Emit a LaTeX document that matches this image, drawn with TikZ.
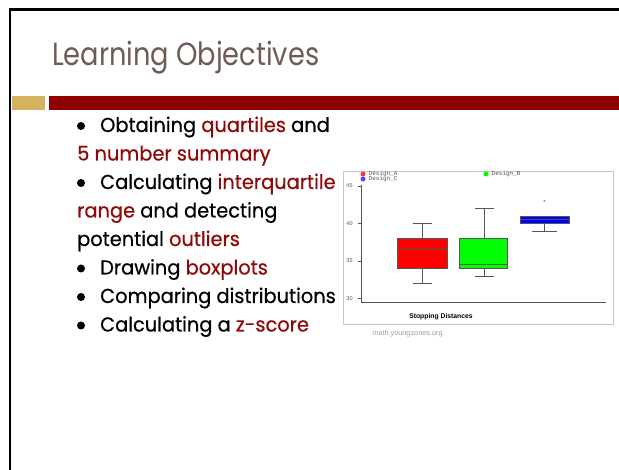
\documentclass[tikz,border=0pt]{standalone}
\usepackage{fontspec}
\setmainfont{Poppins}
\newfontfamily\titlefont{Poppins}[FakeStretch=0.85]
\newfontfamily\bodyfont{Poppins}[FakeBold=0.5,FakeStretch=0.96]
\newfontfamily\monofont{Liberation Mono}
\newfontfamily\chartfont{Liberation Sans}
\definecolor{titlecol}{HTML}{6F5B55}
\definecolor{darkred}{HTML}{8E0A0A}
\definecolor{barred}{HTML}{8E0000}
\definecolor{bargold}{HTML}{D6B25E}
\definecolor{axisgray}{HTML}{555555}
\tikzset{
  bodytext/.style={anchor=base west, inner sep=0pt, font=\bodyfont\fontsize{20.2}{20.2}\selectfont},
  bulletdot/.style={circle, fill=black, inner sep=0pt, minimum size=8pt},
  boxp/.style={draw=axisgray, line width=0.7pt},
  whisk/.style={draw=axisgray, line width=0.7pt},
  ticklab/.style={font=\chartfont\fontsize{5.5}{5.5}\selectfont, text=axisgray, inner sep=0pt},
  legtext/.style={font=\monofont\fontsize{6}{6}\selectfont, anchor=west, inner sep=0pt, text=axisgray},
  legdot/.style={circle, inner sep=0pt, minimum size=5pt}
}
\begin{document}
\begin{tikzpicture}[x=1pt,y=-1pt]
\useasboundingbox (0,0) rectangle (619,470);
\fill[white] (0,0) rectangle (619,470);
% slide frame
\draw[line width=2.6pt, black] (10,470) -- (10,9.5) -- (619,9.5);
% title
\node[anchor=base west, inner sep=0pt, text=titlecol, font=\titlefont\fontsize{32}{32}\selectfont] (title) at (52,66) {Learning Objectives};
% bars
\fill[bargold] (11.5,96) rectangle (45,110.5);
\fill[barred] (48.5,96) rectangle (619,110);
% bullet list
\node[bulletdot] (b1) at (81,126) {};
\node[bodytext] (l1) at (100,132) {Obtaining \textcolor{darkred}{quartiles} and};
\node[bodytext, text=darkred] (l2) at (77,160.5) {5 number summary};
\node[bulletdot] (b2) at (81,183) {};
\node[bodytext] (l3) at (100,189) {Calculating \textcolor{darkred}{interquartile}};
\node[bodytext] (l4) at (77,217.5) {\textcolor{darkred}{range} and detecting};
\node[bodytext] (l5) at (77,246) {potential \textcolor{darkred}{outliers}};
\node[bulletdot] (b3) at (81,268.5) {};
\node[bodytext] (l6) at (100,274.5) {Drawing \textcolor{darkred}{boxplots}};
\node[bulletdot] (b4) at (81,297) {};
\node[bodytext] (l7) at (100,303) {Comparing distributions};
\node[bulletdot] (b5) at (81,325.5) {};
\node[bodytext] (l8) at (100,331.5) {Calculating a \textcolor{darkred}{z-score}};
% chart frame
\draw[draw=black!22, line width=0.8pt] (343,171) rectangle (613,324);
% axes
\draw[axisgray, line width=0.7pt] (361,185) -- (361,302) -- (606,302);
\foreach \v/\yy in {45/186,40/223.5,35/261,30/298.5}{
  \draw[axisgray, line width=0.6pt] (358,\yy) -- (361,\yy);
  \node[ticklab] at (349.5,\yy) {\v};
}
% red box: whiskers 32-40, box 34-38, median 36.5
\draw[whisk] (422,283.5) -- (422,268.5) (422,238.5) -- (422,223.5);
\draw[whisk] (413,283.5) -- (432,283.5) (413,223.5) -- (432,223.5);
\filldraw[boxp, fill=red] (397,238.5) rectangle (447,268.5);
\draw[boxp] (397,249.75) -- (447,249.75);
% green box: whiskers 33-42, box 34-38, median 34.5
\draw[whisk] (484,276) -- (484,268.5) (484,238.5) -- (484,208.5);
\draw[whisk] (475,276) -- (494,276) (475,208.5) -- (494,208.5);
\filldraw[boxp, fill=green] (459,238.5) rectangle (507,268.5);
\draw[boxp] (459,264.75) -- (507,264.75);
% blue box: whisker 39, box 40-41, median 40.5, outlier 43
\draw[whisk] (544.5,231) -- (544.5,223.5);
\draw[whisk] (532,231) -- (557,231);
\filldraw[boxp, fill=blue] (520,216) rectangle (569,223.5);
\draw[boxp] (520,219.75) -- (569,219.75);
\node[font=\chartfont\fontsize{6}{6}\selectfont, text=axisgray, inner sep=0pt] (out) at (544.5,202) {*};
% legend
\node[legdot, fill=red!80] (dA) at (363,174) {};
\node[legtext] (tA) at (368.5,173.5) {Design\_A};
\node[legdot, fill=blue!70] (dC) at (363,179) {};
\node[legtext] (tC) at (368.5,178.5) {Design\_C};
\node[legdot, fill=green] (dB) at (486,174) {};
\node[legtext] (tB) at (491.5,173.5) {Design\_B};
% axis title
\node[font=\chartfont\bfseries\fontsize{6.8}{6.8}\selectfont, inner sep=0pt] (xt) at (441,316.5) {Stopping Distances};
% source
\node[font=\chartfont\fontsize{7.3}{7.3}\selectfont, text=black!38, inner sep=0pt] (src) at (407.5,333.5) {math.youngzones.org};
\end{tikzpicture}
\end{document}
